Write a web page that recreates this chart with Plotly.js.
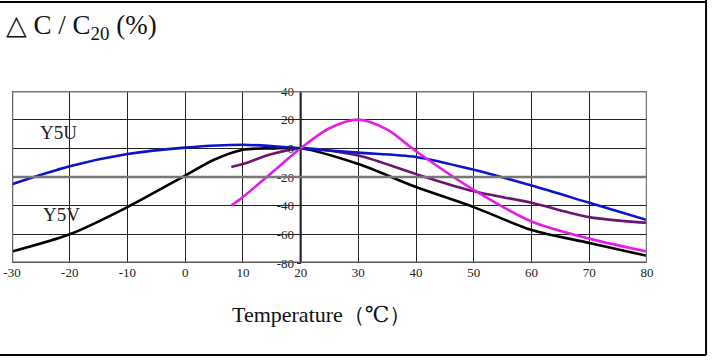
<!DOCTYPE html>
<html><head><meta charset="utf-8">
<script src="https://cdn.plot.ly/plotly-3.0.1.min.js"></script>
<style>body{margin:0;background:#fff}#c{width:718px;height:360px}</style>
</head><body><div id="c"></div>
<script>
const xTicks = [-30,-20,-10,0,10,20,30,40,50,60,70,80];
const yTicks = [40,20,0,-20,-40,-60,-80];
const yTickText = ["40","20","0","-20","-40","-60","-80"];

const y5uT = [-30,-20,-10,0,10,20,30,40,50,60,70,80];
const y5uV = [-25,-12.5,-4,0.5,2.5,0,-3,-6,-15,-26,-38,-50];

const y5vT = [-30,-20,-10,0,5,10,15,20,30,40,50,60,70,80];
const y5vV = [-72,-60,-41,-19,-8,-1,0,0,-11,-27,-41,-57,-66,-75];

const z5uT = [8,10,15,20,30,40,50,60,70,80];
const z5uV = [-13,-11,-4,0,-5,-18,-30,-38,-48,-52];

const z5vT = [8,10,15,20,25,30,35,40,50,60,70,80];
const z5vV = [-40,-34,-17,0,14,20,13,-2,-29,-51,-63,-72];

const serif = "Liberation Serif, DejaVu Serif, serif";
function tr(x,y,color){return {x:x,y:y,type:'scatter',mode:'lines',line:{color:color,width:2.6,shape:'spline',smoothing:0.8},hoverinfo:'skip'};}
const data = [
  tr(y5vT,y5vV,'#000000'),
  tr(z5uT,z5uV,'#6b1470'),
  tr(y5uT,y5uV,'#0a14c8'),
  tr(z5vT,z5vV,'#e020e6')
];
const hl = (y,c,w)=>({type:'line',xref:'x',yref:'y',x0:-30,x1:80,y0:y,y1:y,line:{color:c,width:w},layer:'above'});
const layout = {
  width:718,height:360,
  margin:{l:12,r:71,t:91,b:97},
  paper_bgcolor:'#fff',plot_bgcolor:'#fff',
  showlegend:false,
  xaxis:{range:[-30,80],tickvals:xTicks,ticktext:xTicks.map(String),showgrid:true,gridcolor:'#222',gridwidth:1,
    zeroline:false,showline:false,ticks:'',tickfont:{family:serif,size:13,color:'#222'},fixedrange:true},
  yaxis:{range:[-80,40],tickvals:yTicks,ticktext:yTickText,showgrid:true,gridcolor:'#222',gridwidth:1,
    zeroline:false,showline:false,anchor:'free',position:50/110,side:'left',ticks:'outside',ticklen:4,tickcolor:'#222',
    tickfont:{family:serif,size:13,color:'#222'},fixedrange:true},
  shapes:[
    hl(40,'#777',3), hl(-20,'#777',2.5), hl(-80,'#555',3),
    {type:'line',xref:'x',yref:'y',x0:-30,x1:-30,y0:-80,y1:40,line:{color:'#666',width:2.5},layer:'above'},
    {type:'line',xref:'x',yref:'y',x0:80,x1:80,y0:-80,y1:40,line:{color:'#777',width:2.5},layer:'above'},
    {type:'line',xref:'x',yref:'y',x0:20,x1:20,y0:-80,y1:40,line:{color:'#000',width:2},layer:'below'},
    {type:'line',xref:'paper',yref:'paper',x0:-0.05,x1:1.093,y0:1.517,y1:1.517,line:{color:'#000',width:2}},
    {type:'line',xref:'paper',yref:'paper',x0:1.093,x1:1.093,y0:1.53,y1:-0.535,line:{color:'#000',width:2}},
    {type:'line',xref:'paper',yref:'paper',x0:-0.05,x1:1.093,y0:-0.535,y1:-0.535,line:{color:'#000',width:2}}
  ],
  annotations:[
    {xref:'paper',yref:'paper',x:-0.012,y:1.37,xanchor:'left',yanchor:'middle',showarrow:false,
     text:'△ C / C<sub>20</sub> (%)',font:{family:serif,size:27,color:'#111'}},
    {xref:'x',yref:'y',x:-22,y:11,showarrow:false,text:'Y5U',font:{family:serif,size:19,color:'#222'}},
    {xref:'x',yref:'y',x:-21.5,y:-46,showarrow:false,text:'Y5V',font:{family:serif,size:19,color:'#222'}},
    {xref:'x',yref:'y',x:80.3,y:-48,xanchor:'left',showarrow:false,text:'Z5U',font:{family:serif,size:19,color:'#222'}},
    {xref:'x',yref:'y',x:80.3,y:-66,xanchor:'left',showarrow:false,text:'Z5V',font:{family:serif,size:19,color:'#e020e6'}},
    {xref:'paper',yref:'paper',x:0.488,y:-0.302,xanchor:'center',yanchor:'middle',showarrow:false,
     text:'Temperature（℃）',font:{family:serif,size:22,color:'#111'}}
  ]
};
Plotly.newPlot('c',data,layout,{staticPlot:true});
</script></body></html>
